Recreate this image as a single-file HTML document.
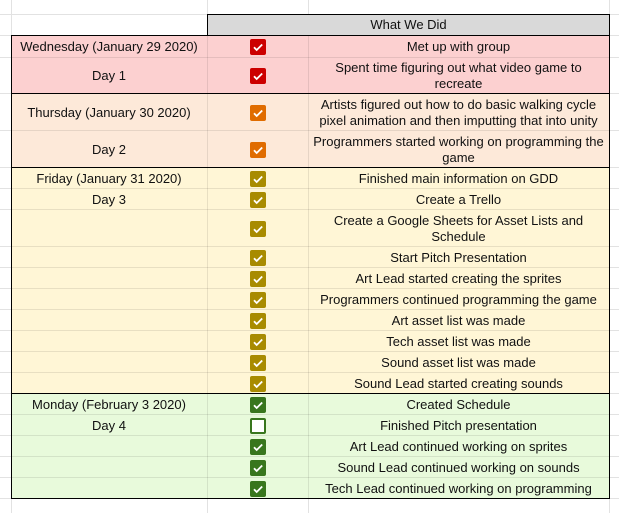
<!DOCTYPE html>
<html><head><meta charset="utf-8"><style>
body{margin:0;width:619px;height:513px;background:#fff;position:relative;overflow:hidden;font-family:"Liberation Sans",Arial,sans-serif;font-size:13px;color:#111}
.a{position:absolute;box-sizing:border-box}
.c{display:flex;align-items:center;justify-content:center;text-align:center;line-height:16px;padding-top:2px}
.cb{position:absolute;width:16px;height:16px;border-radius:2px;box-sizing:border-box}
</style></head><body>
<div id="root"></div>
<script>
const rowsY=[35,57,93,130,167,188,209,246,267,288,309,330,351,372,393,414,435,456,477,498];
const dates=["Wednesday (January 29 2020)","Day 1","Thursday (January 30 2020)","Day 2","Friday (January 31 2020)","Day 3","","","","","","","","","Monday (February 3 2020)","Day 4","","","",""];
const tasks=["Met up with group","Spent time figuring out what video game to recreate","Artists figured out how to do basic walking cycle pixel animation and then imputting that into unity","Programmers started working on programming the game","Finished main information on GDD","Create a Trello","Create a Google Sheets for Asset Lists and Schedule","Start Pitch Presentation","Art Lead started creating the sprites","Programmers continued programming the game","Art asset list was made","Tech asset list was made","Sound asset list was made","Sound Lead started creating sounds","Created Schedule","Finished Pitch presentation","Art Lead continued working on sprites","Sound Lead continued working on sounds","Tech Lead continued working on programming"];
const checked=[1,1,1,1,1,1,1,1,1,1,1,1,1,1,1,0,1,1,1];
const group=[0,0,1,1,2,2,2,2,2,2,2,2,2,2,3,3,3,3,3];
const bgs=["#fcd0d0","#fde9d9","#fff6d6","#e8fadb"];
const boxc=["#cc0000","#e06c00","#a88b00","#38761d"];
const root=document.getElementById('root');
function mk(cls,l,t,w,h,style){const d=document.createElement('div');d.className=cls;d.style.cssText=`left:${l}px;top:${t}px;width:${w}px;height:${h}px;`+(style||'');root.appendChild(d);return d;}
[14,35,57,93,130,167,188,209,246,267,288,309,330,351,372,393,414,435,456,477,498].forEach(y=>{const g=mk('a',0,y,619,1,'background:#e2e2e2');});
[11,207,308,609].forEach(x=>{const g=mk('a',x,0,1,513,'background:#e2e2e2');});
const h=mk('a c',207,14,403,22,'background:#d9d9d9;border:1px solid #000;padding-top:0');h.textContent='What We Did';


for(let i=0;i<tasks.length;i++){
  const y=rowsY[i],ht=rowsY[i+1]-y,g=group[i];
  const r=mk('a',11,y,599,ht,'background:'+bgs[g]);
  
  
}
for(let i=0;i<tasks.length;i++){
  const y=rowsY[i],ht=rowsY[i+1]-y,g=group[i];
  const l1=mk('a',207,y,1,ht,'background:rgba(0,0,0,0.09)');
  const l2=mk('a',308,y,1,ht,'background:rgba(0,0,0,0.09)');
  const l3=mk('a',11,y+ht,599,1,'background:rgba(0,0,0,0.09)');
  const dc=mk('a c',11,y,196,ht);dc.textContent=dates[i];
  
  
  const tc=mk('a c',308,y,301,ht,'padding-left:4px;padding-right:4px');tc.textContent=tasks[i];
  
  
  const cb=mk('cb',250,y+Math.round((ht-16)/2)+1,16,16,checked[i]?'background:'+boxc[g]:'border:2px solid '+boxc[g]+';background:#fff');
  
  
  if(checked[i]) cb.innerHTML='<svg width="16" height="16" style="position:absolute;left:0;top:0"><path d="M4 8.3l2.7 2.7L12.2 5.5" stroke="#fff" stroke-width="1.8" fill="none"/></svg>';
}
const ob=mk('a',11,35,599,464,'border:1px solid #000');
[93,167,393].forEach(y=>{const s=mk('a',11,y,599,1,'background:#000');});
</script>
</body></html>
